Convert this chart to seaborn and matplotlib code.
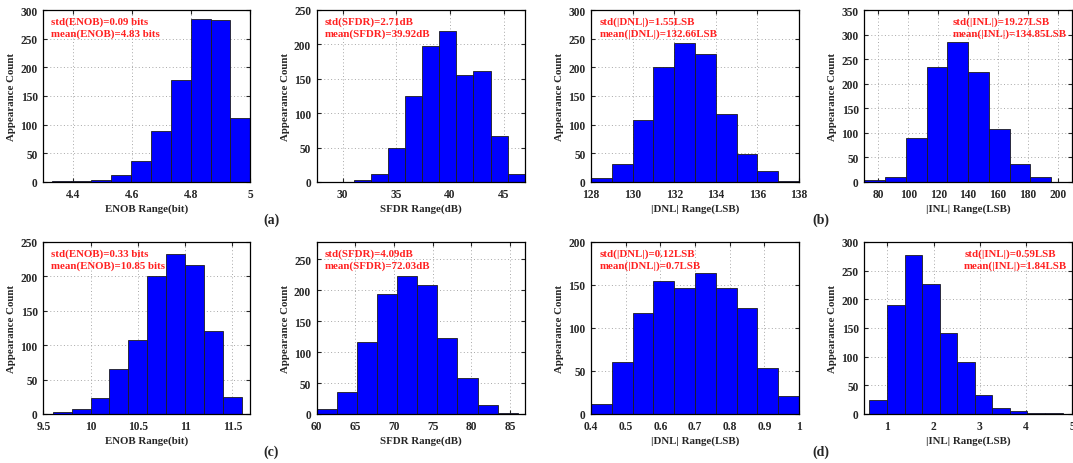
import numpy as np
import pandas as pd
import matplotlib
matplotlib.use("Agg")
import matplotlib.pyplot as plt
import seaborn as sns
from matplotlib.ticker import MultipleLocator, FormatStrFormatter

#%% DATA (counts per bin)
enob_a_counts = [1, 1, 3, 13, 36, 89, 178, 285, 283, 111]
enob_a_range = (4.328, 5.0)
sfdr_a_counts = [3, 11, 50, 125, 198, 219, 155, 161, 67, 11]
sfdr_a_range = (31.05, 46.95)

dnl_b_counts = [7, 32, 108, 200, 242, 223, 118, 49, 20, 1]
dnl_b_range = (128.0, 138.0)
inl_b_counts = [5, 11, 89, 233, 284, 223, 107, 36, 11, 1]
inl_b_range = (70.7, 209.2)

enob_c_counts = [3, 7, 23, 65, 107, 201, 232, 216, 121, 24]
enob_c_range = (9.6, 11.6)
sfdr_c_counts = [8, 35, 117, 194, 223, 208, 123, 58, 14, 2]
sfdr_c_range = (60.0, 86.0)

dnl_d_counts = [12, 61, 117, 155, 146, 164, 147, 123, 54, 21]
dnl_d_range = (0.4, 1.0)
inl_d_counts = [24, 190, 277, 226, 142, 90, 34, 10, 5, 2, 1]
inl_d_range = (0.61, 4.79)

stats_text = [
    ["std(ENOB)=0.09 bits", "mean(ENOB)=4.83 bits"],
    ["std(SFDR)=2.71dB", "mean(SFDR)=39.92dB"],
    ["std(|DNL|)=1.55LSB", "mean(|DNL|)=132.66LSB"],
    ["std(|INL|)=19.27LSB", "mean(|INL|)=134.85LSB"],
    ["std(ENOB)=0.33 bits", "mean(ENOB)=10.85 bits"],
    ["std(SFDR)=4.09dB", "mean(SFDR)=72.03dB"],
    ["std(|DNL|)=0.12LSB", "mean(|DNL|)=0.7LSB"],
    ["std(|INL|)=0.59LSB", "mean(|INL|)=1.84LSB"],
]
xlabels = ["ENOB Range(bit)", "SFDR Range(dB)", "|DNL| Range(LSB)", "|INL| Range(LSB)"] * 2
panel_tags = ["(a)", "(b)", "(c)", "(d)"]

#%% STYLE
sns.set_theme(style="ticks")
plt.rcParams['font.family'] = ['Liberation Serif', 'DejaVu Serif']
plt.rcParams['font.weight'] = 'bold'
plt.rcParams['axes.labelweight'] = 'bold'
plt.rcParams['font.size'] = 8

W, H = 1073, 464
fig = plt.figure(figsize=(W / 100, H / 100), dpi=100)

col_left = [43.3, 316.7, 591, 864.3]
col_width = [207, 208, 208, 208]
row_top = [11, 243]
ax_h = 172

panels = [
    (enob_a_counts, enob_a_range, (4.3, 5.0), 300, 0.2, 50),
    (sfdr_a_counts, sfdr_a_range, (27.58, 46.95), 250, 5, 50),
    (dnl_b_counts, dnl_b_range, (128, 138), 300, 2, 50),
    (inl_b_counts, inl_b_range, (70.7, 209.5), 350, 20, 50),
    (enob_c_counts, enob_c_range, (9.5, 11.69), 250, 0.5, 50),
    (sfdr_c_counts, sfdr_c_range, (60, 86.9), 278, 5, 50),
    (dnl_d_counts, dnl_d_range, (0.4, 1.0), 200, 0.1, 50),
    (inl_d_counts, inl_d_range, (0.5, 5.0), 300, 1, 50),
]
text_x = [0.035, 0.04, 0.04, 0.426, 0.035, 0.04, 0.04, 0.48]


def plot_hist(ax, counts, rng):
    edges = np.linspace(rng[0], rng[1], len(counts) + 1)
    df = pd.DataFrame({"value": (edges[:-1] + edges[1:]) / 2, "count": counts})
    sns.histplot(data=df, x="value", weights="count", bins=edges.tolist(), ax=ax,
                 color='#0000ff', edgecolor='#1e1e1e', linewidth=0.6, alpha=1)


for i, (counts, rng, xlim, ytop, xstep, ystep) in enumerate(panels):
    r, c = divmod(i, 4)
    left = col_left[c] / W
    bottom = 1 - (row_top[r] + ax_h) / H
    ax = fig.add_axes([left, bottom, col_width[c] / W, ax_h / H])
    ax.set_axisbelow(True)
    plot_hist(ax, counts, rng)

    ax.set_xlim(xlim)
    ax.set_ylim(0, ytop)
    ax.xaxis.set_major_locator(MultipleLocator(xstep))
    ax.yaxis.set_major_locator(MultipleLocator(ystep))
    ax.xaxis.set_major_formatter(FormatStrFormatter('%g'))
    ax.grid(True, linestyle=(0, (1, 2.5)), color='#a8a8a8', linewidth=0.7)
    ax.tick_params(direction='in', top=True, right=True, length=3, width=0.8,
                   labelsize=8.3, pad=4)
    for lab in ax.get_xticklabels() + ax.get_yticklabels():
        lab.set_fontweight('bold')
    for sp in ax.spines.values():
        sp.set_color('black')
        sp.set_linewidth(0.9)

    ax.set_xlabel(xlabels[i], fontsize=7.8, fontweight='bold', labelpad=2.5)
    ax.set_ylabel("Appearance Count", fontsize=7.8, fontweight='bold', labelpad=3)

    ax.text(text_x[i], 0.935, stats_text[i][0], transform=ax.transAxes,
            color='#ff2020', fontsize=7.8, fontweight='bold', va='center', ha='left')
    ax.text(text_x[i], 0.865, stats_text[i][1], transform=ax.transAxes,
            color='#ff2020', fontsize=7.8, fontweight='bold', va='center', ha='left')

# panel tags
tag_pos = [(271, 220), (821, 220), (271, 452), (821, 452)]
for tag, (x, y) in zip(panel_tags, tag_pos):
    fig.text(x / W, 1 - y / H, tag, fontsize=10, fontweight='bold',
             ha='center', va='center')

fig.savefig("out.png", dpi=100)
